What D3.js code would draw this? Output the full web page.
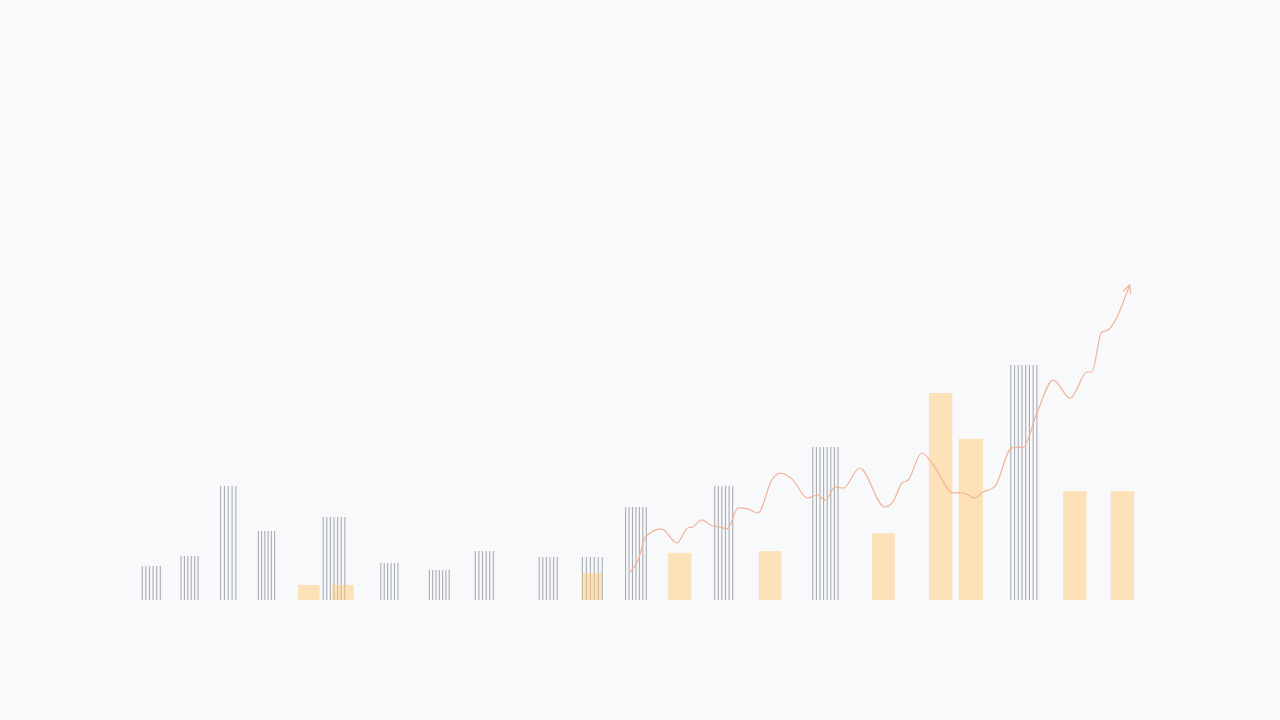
<!DOCTYPE html>
<html>
<head>
<meta charset="utf-8">
<script src="https://d3js.org/d3.v7.min.js"></script>
<style>
  html, body { margin: 0; padding: 0; background: #f8f9fb; }
  svg { display: block; }
</style>
</head>
<body>
<svg id="chart" width="1280" height="720"></svg>
<script>

// gray hatched intervals: [start, end, value]
var grayStart = [4.7, 9.0, 13.4, 17.6, 24.8, 31.2, 36.6, 41.7, 48.8, 53.6, 58.4, 68.3, 79.2, 101.2];
var grayEnd   = [6.7, 10.9, 15.1, 19.4, 27.2, 33.1, 38.8, 43.7, 50.8, 55.8, 60.7, 70.3, 82.0, 104.1];
var grayValue = [11.3, 14.7, 38, 23, 27.7, 12.3, 10, 16.3, 14.3, 14.3, 31, 38, 51, 78.3];

// orange intervals
var orangeStart = [22.0, 25.8, 53.6, 63.1, 73.2, 85.8, 92.1, 95.4, 107.0, 112.3];
var orangeEnd   = [24.4, 28.2, 55.8, 65.7, 75.7, 88.3, 94.7, 98.1, 109.6, 114.9];
var orangeValue = [5, 5, 9, 15.7, 16.3, 22.3, 69, 53.7, 36.3, 36.3];

// trend line
var lineX = [58.9, 59.8, 60.6, 62.4, 64.1, 65.3, 65.8, 66.9, 67.8, 68.9, 69.7, 70.9, 72.0, 73.1,
             74.7, 75.6, 76.9, 78.6, 79.7, 80.6, 81.7, 82.6, 84.4, 87.2, 88.1, 89.1, 89.8, 91.3,
             92.6, 94.8, 95.9, 97.2, 98.1, 99.4, 101.3, 102.6, 104.1, 105.9, 107.8, 109.7, 110.2,
             111.3, 112.0, 114.4];
var lineY = [9.3, 13.3, 21, 23.7, 19, 24, 24.3, 26.7, 25, 24.3, 23.7, 30.7, 30.3, 29,
             40.3, 42.3, 40.3, 34, 35, 33.3, 37.7, 37.3, 44, 31, 32.7, 39, 40, 49,
             45, 35.7, 35.7, 34, 36, 37.7, 50.7, 51, 62.3, 73.3, 67.3, 76, 76,
             89.3, 90, 105];

var svg = d3.select("#chart");

var x = d3.scaleLinear().domain([0, 120]).range([100, 1180]);
var y = d3.scaleLinear().domain([0, 100]).range([600, 300]);

var grayDat = grayStart.map(function(s, i) { return {s: s, e: grayEnd[i], v: grayValue[i]}; });
var orangeDat = orangeStart.map(function(s, i) { return {s: s, e: orangeEnd[i], v: orangeValue[i]}; });
var lineDat = lineX.map(function(d, i) { return {x: d, y: lineY[i]}; });

// hatched gray bars
var gGray = svg.append("g");
gGray.selectAll("g.bar")
  .data(grayDat)
  .enter()
  .append("g")
  .attr("class", "bar")
  .each(function(d) {
    var x0 = x(d.s), x1 = x(d.e);
    var n = Math.max(2, Math.round((x1 - x0) / 3.6) + 1);
    var step = (x1 - x0) / (n - 1);
    d3.select(this).selectAll("line")
      .data(d3.range(n))
      .enter()
      .append("line")
      .attr("x1", function(k) { return x0 + k * step; })
      .attr("x2", function(k) { return x0 + k * step; })
      .attr("y1", y(d.v))
      .attr("y2", y(0))
      .attr("stroke", "#a9acb2")
      .attr("stroke-width", 1.1);
  });

// orange bars
svg.append("g")
  .selectAll("rect")
  .data(orangeDat)
  .enter()
  .append("rect")
  .attr("x", function(d) { return x(d.s); })
  .attr("width", function(d) { return x(d.e) - x(d.s); })
  .attr("y", function(d) { return y(d.v); })
  .attr("height", function(d) { return y(0) - y(d.v); })
  .attr("fill", "#ffc978")
  .attr("fill-opacity", 0.5);

// arrow marker
svg.append("defs").append("marker")
  .attr("id", "arrow")
  .attr("viewBox", "0 0 10 10")
  .attr("refX", 9)
  .attr("refY", 5)
  .attr("markerWidth", 10)
  .attr("markerHeight", 10)
  .attr("markerUnits", "userSpaceOnUse")
  .attr("orient", "auto")
  .append("path")
  .attr("d", "M1,1 L9,5 L1,9")
  .attr("fill", "none")
  .attr("stroke", "#f2b396")
  .attr("stroke-width", 1.2);

var line = d3.line()
  .x(function(d) { return x(d.x); })
  .y(function(d) { return y(d.y); })
  .curve(d3.curveMonotoneX);

svg.append("path")
  .datum(lineDat)
  .attr("fill", "none")
  .attr("stroke", "#f2b396")
  .attr("stroke-width", 1.2)
  .attr("stroke-linejoin", "round")
  .attr("stroke-linecap", "round")
  .attr("marker-end", "url(#arrow)")
  .attr("d", line);

</script>
</body>
</html>
